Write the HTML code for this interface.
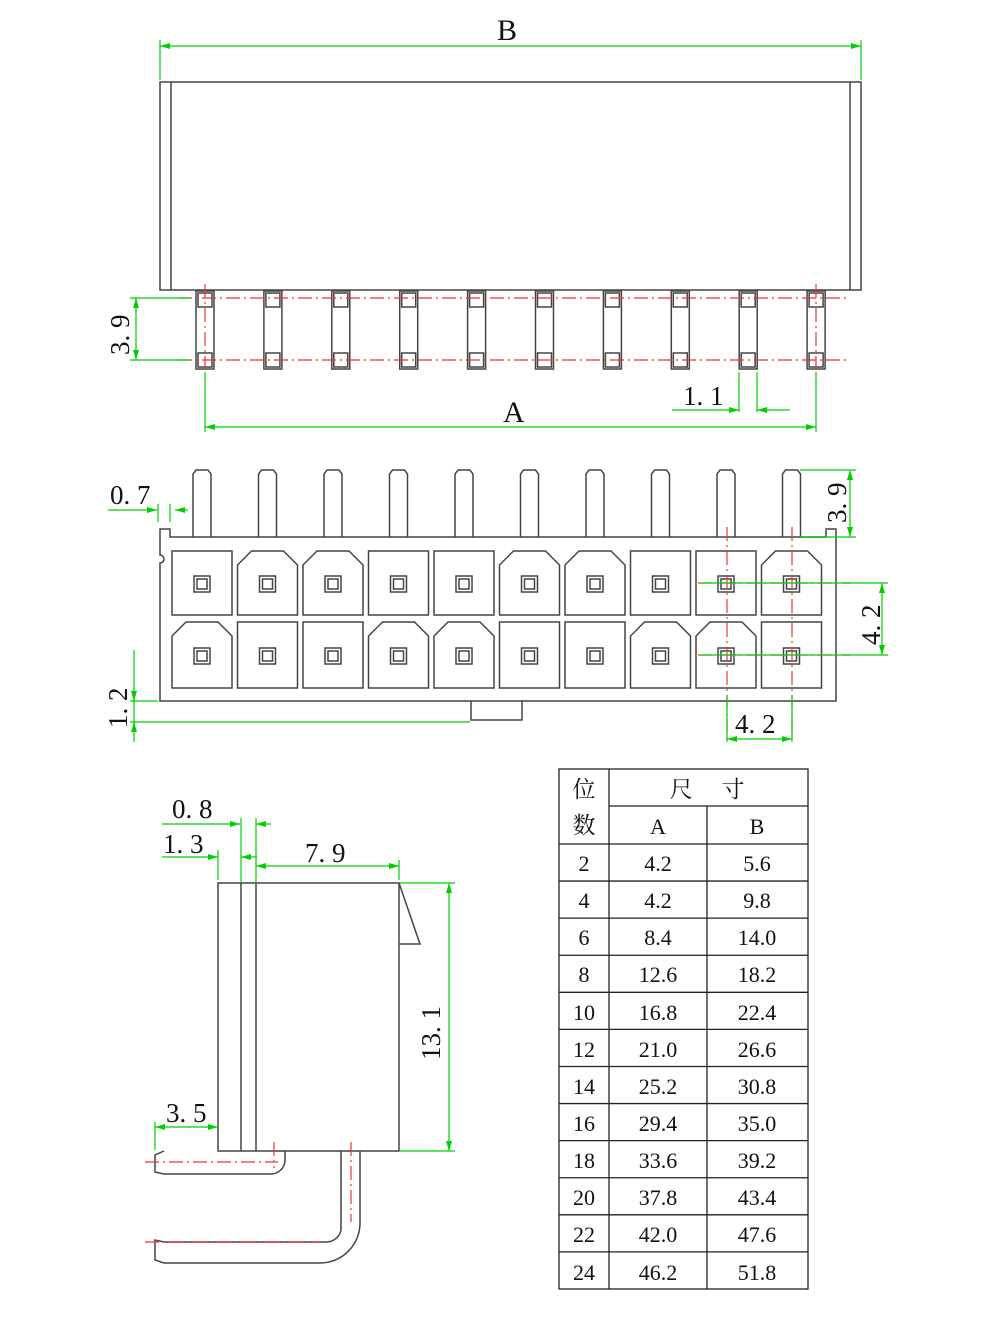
<!DOCTYPE html>
<html><head><meta charset="utf-8"><style>
html,body{margin:0;padding:0;background:#fff;width:1000px;height:1333px;overflow:hidden}
svg{position:absolute;left:0;top:0}
.t{font-family:"Liberation Serif","Noto Serif CJK SC",serif;fill:#111}
</style></head><body>
<svg id="s" width="1000" height="1333" viewBox="0 0 1000 1333" xmlns="http://www.w3.org/2000/svg">
<defs>
<marker id="ar" viewBox="0 0 10 6" refX="10" refY="3" markerWidth="10" markerHeight="6" orient="auto-start-reverse" markerUnits="userSpaceOnUse"><path d="M0,0L10,3L0,6z" fill="#00d000"/></marker>
</defs>
<g id="g" fill="none" stroke="#444" stroke-width="1.5">
<!-- top view body -->
<rect x="160" y="82" width="701" height="208"/>
<line x1="171" y1="82" x2="171" y2="290"/>
<line x1="850" y1="82" x2="850" y2="290"/>
<!-- middle view body -->
<path d="M160,537 L160,529 L170,529 L170,537 L826,537 L826,529 L836,529 L836,537 L836,701 L160,701 L160,563 A4,4 0 0 0 160,555 Z"/>
<path d="M471,701 L471,720 L522,720 L522,701"/>
<!-- side view -->
<rect x="218" y="883" width="181" height="268"/>
<line x1="241" y1="883" x2="241" y2="1151"/>
<line x1="256" y1="883" x2="256" y2="1151"/>
<path d="M399,883 L420,944 L399,944"/>
<path d="M285,1151 L285,1160 A14,14 0 0 1 271,1174 L164,1174 L155,1172 L155,1155 L164,1151"/>
<path d="M341,1151 L341,1230 A15,15 0 0 1 326,1242 L164,1242 L155,1240 L155,1260 L164,1263 L320,1263 A40,40 0 0 0 360,1223 L360,1151"/>
</g>
<g id="red" fill="none" stroke="#e33" stroke-width="1.2" stroke-dasharray="14,4,2,4"></g>
<g id="grn" fill="none" stroke="#00d000" stroke-width="1.2"></g>
<!-- labels -->
<text class="t" x="497" y="40" font-size="30">B</text>
<text class="t" x="503" y="422" font-size="30">A</text>
<text class="t" x="683" y="405" font-size="27">1. 1</text>
<text class="t" font-size="27" transform="translate(129,355) rotate(-90)">3. 9</text>
<text class="t" x="110" y="504" font-size="27">0. 7</text>
<text class="t" font-size="27" transform="translate(846,523) rotate(-90)">3. 9</text>
<text class="t" font-size="27" transform="translate(880,645) rotate(-90)">4. 2</text>
<text class="t" x="735" y="733" font-size="27">4. 2</text>
<text class="t" font-size="27" transform="translate(127,728) rotate(-90)">1. 2</text>
<text class="t" x="172" y="818" font-size="27">0. 8</text>
<text class="t" x="163" y="853" font-size="27">1. 3</text>
<text class="t" x="305" y="862" font-size="27">7. 9</text>
<text class="t" x="166" y="1122" font-size="27">3. 5</text>
<text class="t" font-size="27" transform="translate(440,1060) rotate(-90)">13. 1</text>
<!-- table -->
<g fill="none" stroke="#222" stroke-width="1.3">
<rect x="559" y="769" width="249" height="520"/>
<line x1="609" y1="769" x2="609" y2="1289"/>
<line x1="707" y1="806" x2="707" y2="1289"/>
<line x1="609" y1="806" x2="808" y2="806"/>
<g id="rows"></g>
</g>
<g class="t" font-size="22" text-anchor="middle">
<text x="584" y="797" font-size="23">位</text>
<text x="584" y="833" font-size="23">数</text>
<text x="707" y="797" font-size="23">尺　 寸</text>
<text x="658" y="834">A</text><text x="757" y="834">B</text>
<text x="584" y="871">2</text><text x="658" y="871">4.2</text><text x="757" y="871">5.6</text>
<text x="584" y="908">4</text><text x="658" y="908">4.2</text><text x="757" y="908">9.8</text>
<text x="584" y="945">6</text><text x="658" y="945">8.4</text><text x="757" y="945">14.0</text>
<text x="584" y="982">8</text><text x="658" y="982">12.6</text><text x="757" y="982">18.2</text>
<text x="584" y="1020">10</text><text x="658" y="1020">16.8</text><text x="757" y="1020">22.4</text>
<text x="584" y="1057">12</text><text x="658" y="1057">21.0</text><text x="757" y="1057">26.6</text>
<text x="584" y="1094">14</text><text x="658" y="1094">25.2</text><text x="757" y="1094">30.8</text>
<text x="584" y="1131">16</text><text x="658" y="1131">29.4</text><text x="757" y="1131">35.0</text>
<text x="584" y="1168">18</text><text x="658" y="1168">33.6</text><text x="757" y="1168">39.2</text>
<text x="584" y="1205">20</text><text x="658" y="1205">37.8</text><text x="757" y="1205">43.4</text>
<text x="584" y="1242">22</text><text x="658" y="1242">42.0</text><text x="757" y="1242">47.6</text>
<text x="584" y="1280">24</text><text x="658" y="1280">46.2</text><text x="757" y="1280">51.8</text>
</g>
</svg>
<script>
var NS="http://www.w3.org/2000/svg";
function el(p,t,a){var e=document.createElementNS(NS,t);for(var k in a)e.setAttribute(k,a[k]);document.getElementById(p).appendChild(e);return e;}
// table rows
for(var i=0;i<12;i++){var y=844+i*37.08;el("rows","line",{x1:559,y1:y,x2:808,y2:y});}
// top view pins
for(var i=0;i<10;i++){var cx=205+i*67.9;
 el("g","rect",{x:cx-9,y:291,width:18,height:78});
 el("g","rect",{x:cx-7,y:293,width:14,height:14});
 el("g","rect",{x:cx-7,y:353,width:14,height:14});
}
// middle pins & cells
var r1=[0,1,1,0,0,1,1,0,0,1],r2=[1,0,0,1,1,0,0,1,1,0];
for(var i=0;i<10;i++){var cx=202+i*65.5;
 el("g","path",{d:"M"+(cx-9)+",537 L"+(cx-9)+",474 L"+(cx-6)+",470 L"+(cx+6)+",470 L"+(cx+9)+",474 L"+(cx+9)+",537"});
 [[551,615,r1[i]],[622,688,r2[i]]].forEach(function(r){
  var x0=cx-30,x1=cx+30,y0=r[0],y1=r[1];
  var d=r[2]?"M"+x0+","+y1+" L"+x0+","+(y0+14)+" L"+(x0+14)+","+y0+" L"+(x1-14)+","+y0+" L"+x1+","+(y0+14)+" L"+x1+","+y1+" Z":"M"+x0+","+y0+" H"+x1+" V"+y1+" H"+x0+" Z";
  el("g","path",{d:d});
  var cy=(y0+y1)/2+1;
  el("g","rect",{x:cx-8,y:cy-8,width:16,height:16});
  el("g","rect",{x:cx-5,y:cy-5,width:10,height:10});
 });
}
// red center lines
el("red","line",{x1:178,y1:298,x2:848,y2:298});
el("red","line",{x1:178,y1:360,x2:848,y2:360});
el("red","line",{x1:205,y1:284,x2:205,y2:378});
el("red","line",{x1:816,y1:284,x2:816,y2:378});
el("red","line",{x1:727,y1:527,x2:727,y2:740});
el("red","line",{x1:792,y1:527,x2:792,y2:740});
el("red","line",{x1:698,y1:583,x2:850,y2:583});
el("red","line",{x1:698,y1:655,x2:850,y2:655});
el("red","line",{x1:145,y1:1162,x2:278,y2:1162});
el("red","line",{x1:145,y1:1242,x2:320,y2:1242});
el("red","line",{x1:274,y1:1142,x2:274,y2:1168});
el("red","line",{x1:351,y1:1142,x2:351,y2:1222});
// green dims
function L(a,b,c,d,m1,m2){var o={x1:a,y1:b,x2:c,y2:d};if(m1)o["marker-start"]="url(#ar)";if(m2)o["marker-end"]="url(#ar)";el("grn","line",o);}
L(160,40,160,80);L(861,40,861,80);L(160,46,861,46,1,1);
L(205,372,205,432);L(816,372,816,432);L(205,427,816,427,1,1);
L(739,372,739,412);L(757,372,757,412);L(672,410,739,410,0,1);L(757,410,790,410,1,0);
L(130,298,190,298);L(130,360,190,360);L(136,298,136,360,1,1);
L(108,510,157,510,0,1);L(188,510,175,510,0,1);L(158,504,158,522);L(170,504,170,522);
L(800,470,856,470);L(800,537,856,537);L(850,470,850,537,1,1);
L(700,583,888,583);L(700,655,888,655);L(882,583,882,655,1,1);
L(727,695,727,742);L(792,695,792,742);L(727,739,792,739,1,1);
L(130,701,158,701);L(130,722,470,722);L(134,650,134,742);L(134,690,134,701,0,1);L(134,732,134,722,0,1);
L(162,824,240,824,0,1);L(271,824,256,824,0,1);L(241,818,241,883);L(256,818,256,883);
L(162,857,218,857,0,1);L(218,850,218,880);L(257,857,241,857,0,1);
L(256,866,399,866,1,1);L(399,860,399,880);
L(400,883,455,883);L(400,1151,455,1151);L(449,883,449,1151,1,1);
L(155,1127,218,1127,1,1);L(155,1122,155,1150);
</script>
</body></html>
